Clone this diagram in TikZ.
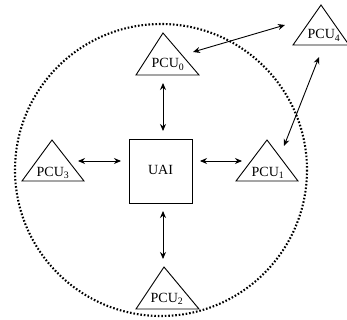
\documentclass[tikz,border=0pt]{standalone}
\usepackage{fontspec}
\setmainfont{Liberation Serif}
\usetikzlibrary{arrows.meta}
\begin{document}
\begin{tikzpicture}[x=1pt,y=-1pt,
  tri/.style={draw=black,line width=0.9pt,line join=miter},
  lbl/.style={inner sep=0pt,anchor=base,font=\fontsize{14}{16}\selectfont},
  link/.style={line width=0.9pt,{Stealth[length=7pt,width=6pt]}-{Stealth[length=7pt,width=6pt]}},
  ring/.style={line width=2.1pt,dash pattern=on 1.6pt off 1.9pt}]
\useasboundingbox (0,0) rectangle (347,320);
% dotted ring
\draw[ring] (161,170) circle (146);
% UAI box
\node[draw,line width=0.9pt,minimum width=63pt,minimum height=64pt,inner sep=0pt] (uai) at (160.5,171) {};
\node[lbl] (uait) at (160.5,175) {UAI};
% triangles
\draw[tri] (163,33) -- (199,75) -- (136,75) -- cycle;
\node[lbl] (p0) at (168,68) {PCU\textsubscript{0}};
\draw[tri] (267,140) -- (298,181) -- (236,181) -- cycle;
\node[lbl] (p1) at (268,176) {PCU\textsubscript{1}};
\draw[tri] (164,267) -- (199,309) -- (136,309) -- cycle;
\node[lbl] (p2) at (167,302) {PCU\textsubscript{2}};
\draw[tri] (52,140) -- (84,181) -- (22,181) -- cycle;
\node[lbl] (p3) at (53,176) {PCU\textsubscript{3}};
\draw[tri] (321,5) -- (349,45) -- (293,45) -- cycle;
\node[lbl] (p4) at (324,39) {PCU\textsubscript{4}};
% connector endpoints
\coordinate (a0) at (163,83);  \coordinate (a1) at (163,131);
\coordinate (b0) at (163,211); \coordinate (b1) at (163,259);
\coordinate (c0) at (78,161);  \coordinate (c1) at (121,161);
\coordinate (d0) at (200,161); \coordinate (d1) at (242,161);
\coordinate (e0) at (193,52);  \coordinate (e1) at (285,25);
\coordinate (f0) at (319,57);  \coordinate (f1) at (284,146);
\draw[link] (a0) -- (a1);
\draw[link] (b0) -- (b1);
\draw[link] (c0) -- (c1);
\draw[link] (d0) -- (d1);
\draw[link] (e0) -- (e1);
\draw[link] (f0) -- (f1);
\end{tikzpicture}
\end{document}
